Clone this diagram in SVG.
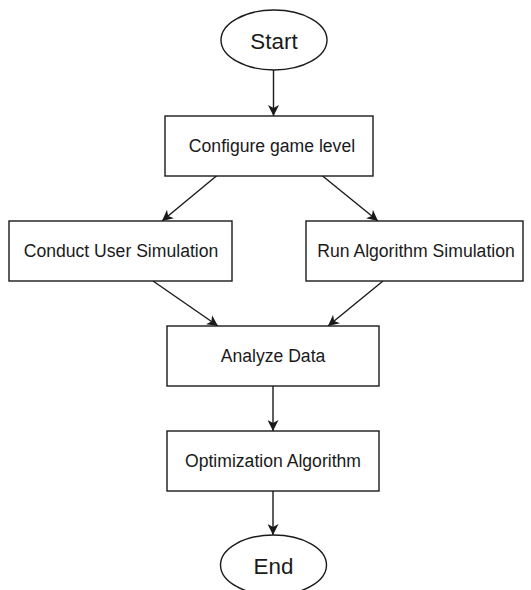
<svg xmlns="http://www.w3.org/2000/svg" width="531" height="590" viewBox="0 0 531 590">
  <style>
    .shape { fill: #ffffff; stroke: #1a1a1a; stroke-width: 1.4; }
    .edge { fill: none; stroke: #1a1a1a; stroke-width: 1.4; marker-end: url(#arrow); }
    .label { font-family: "Liberation Sans", Arial, Helvetica, sans-serif; font-size: 17.6px; fill: #1a1a1a; text-anchor: middle; }
    .term { font-size: 22.4px; }
  </style>
  <defs>
    <marker id="arrow" viewBox="0 0 11 11" refX="11" refY="5.5" markerWidth="11" markerHeight="11" markerUnits="userSpaceOnUse" orient="auto">
      <path d="M0,0 L11,5.5 L0,11 L3,5.5 Z" fill="#1a1a1a"/>
    </marker>
  </defs>
  <rect width="531" height="590" fill="#ffffff"/>

  <!-- connectors -->
  <g id="connectors">
    <line class="edge" x1="273.5" y1="70" x2="273.5" y2="116"/>
    <line class="edge" x1="217" y1="175.5" x2="162" y2="221"/>
    <line class="edge" x1="322" y1="175.5" x2="378" y2="221"/>
    <line class="edge" x1="153" y1="281" x2="218" y2="326"/>
    <line class="edge" x1="383" y1="281" x2="328" y2="326"/>
    <line class="edge" x1="273" y1="386" x2="273" y2="431"/>
    <line class="edge" x1="273" y1="491" x2="273" y2="535"/>
  </g>

  <!-- nodes -->
  <g id="start">
    <ellipse class="shape" cx="274" cy="40" rx="53" ry="30"/>
    <text class="label term" x="274" y="48.5">Start</text>
  </g>
  <g id="configure">
    <rect class="shape" x="165" y="116" width="208" height="60"/>
    <text class="label" x="272" y="152">Configure game level</text>
  </g>
  <g id="user-sim">
    <rect class="shape" x="9" y="221" width="223" height="60"/>
    <text class="label" x="121" y="257">Conduct User Simulation</text>
  </g>
  <g id="algo-sim">
    <rect class="shape" x="306" y="221" width="217" height="60"/>
    <text class="label" x="416" y="257">Run Algorithm Simulation</text>
  </g>
  <g id="analyze">
    <rect class="shape" x="167" y="326" width="212" height="60"/>
    <text class="label" x="273" y="362">Analyze Data</text>
  </g>
  <g id="optimize">
    <rect class="shape" x="167" y="431" width="212" height="60"/>
    <text class="label" x="273" y="467">Optimization Algorithm</text>
  </g>
  <g id="end">
    <ellipse class="shape" cx="273.5" cy="565" rx="53" ry="30"/>
    <text class="label term" x="273.5" y="573.5">End</text>
  </g>
</svg>
